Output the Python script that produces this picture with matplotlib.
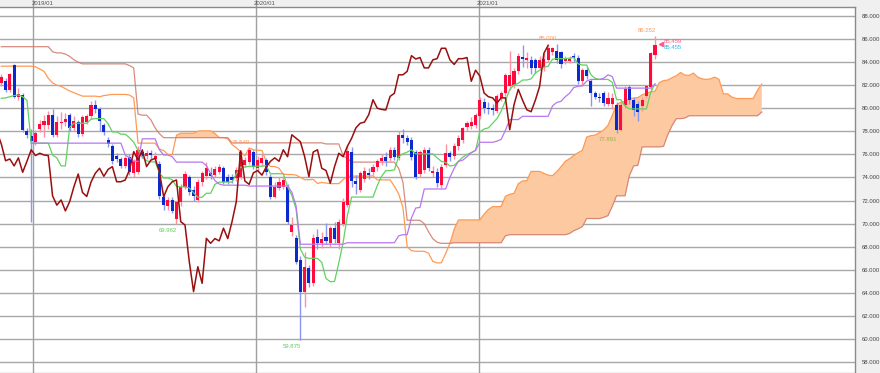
import numpy as np
import matplotlib
matplotlib.use("Agg")
import matplotlib.pyplot as plt
import matplotlib.transforms as mtransforms
from matplotlib import font_manager

# ---------------- data (weekly candles) ----------------
opens = [82.2, 82.4, 81.6, 83.75, 81.0, 81.15, 78.0, 77.6, 77.1, 78.2,
         78.55, 78.55, 79.4, 77.7, 78.7, 78.8, 79.4, 78.3, 78.85, 77.75,
         78.8, 79.3, 80.3, 79.9, 78.55, 77.25, 76.7, 75.9, 75.6, 75.0,
         75.8, 74.4, 74.45, 76.2, 75.9, 76.1, 75.6, 75.2, 72.3, 71.5,
         72.05, 70.4, 71.9, 73.2, 74.0, 72.9, 72.05, 73.6, 74.1, 74.4,
         74.2, 74.5, 74.8, 74.07, 74.07, 73.92, 74.07, 75.1, 75.37, 76.24,
         74.8, 75.23, 75.5, 74.07, 72.33, 73.06, 73.2, 73.2, 69.3, 68.72,
         66.84, 64.1, 66.12, 64.87, 68.86, 68.3, 68.8, 68.3, 69.6, 68.3,
         70.0, 71.6, 76.2, 73.7, 72.9, 73.9, 74.4, 74.5, 74.9, 75.4,
         75.8, 75.7, 76.4, 75.7, 77.7, 77.4, 77.25, 76.2, 74.3, 74.65,
         76.4, 74.4, 74.5, 73.35, 75.08, 76.1, 75.9, 76.7, 77.25, 78.4,
         78.5, 78.58, 79.3, 80.5, 80.0, 80.0, 79.79, 80.9, 81.32, 81.9,
         82.04, 83.2, 84.47, 84.2, 84.2, 84.2, 83.5, 83.6, 84.2, 84.9,
         85.0, 84.9, 84.1, 84.1, 84.5, 84.4, 82.4, 83.3, 82.34, 81.3,
         81.0, 81.3, 80.4, 80.4, 80.3, 78.14, 80.28, 81.84, 80.74, 80.4,
         80.2, 81.03, 81.82, 84.6]
highs = [83.0, 82.6, 83.1, 83.85, 81.8, 81.3, 78.3, 78.2, 78.1, 79.0,
         79.4, 79.8, 79.9, 79.3, 79.7, 79.6, 79.6, 79.3, 79.0, 79.4,
         79.5, 80.6, 80.7, 80.1, 78.7, 77.5, 76.9, 76.1, 75.8, 75.9,
         76.0, 75.6, 76.7, 76.5, 76.4, 76.4, 76.2, 75.4, 72.6, 72.3,
         72.3, 72.0, 73.4, 74.6, 74.2, 73.3, 73.9, 74.6, 75.3, 74.9,
         75.0, 75.2, 75.0, 74.3, 74.3, 74.9, 76.4, 75.8, 76.549, 76.4,
         75.9, 76.0, 75.7, 74.3, 73.6, 74.0, 74.1, 73.4, 70.6, 69.0,
         67.2, 67.5, 66.4, 69.1, 69.5, 69.3, 70.05, 69.8, 70.1, 70.4,
         72.2, 76.8, 76.6, 74.2, 74.6, 74.9, 74.8, 75.2, 75.6, 76.0,
         76.2, 76.6, 76.6, 78.0, 78.2, 77.7, 77.5, 76.4, 76.4, 76.6,
         76.6, 75.0, 74.8, 75.2, 76.9, 76.3, 77.0, 77.7, 78.4, 78.9,
         79.2, 79.6, 81.0, 80.9, 80.5, 80.4, 81.2, 81.5, 83.1, 84.94,
         83.5, 84.8, 85.5, 84.9, 84.5, 84.4, 84.5, 84.8, 85.4, 85.3,
         85.6, 85.0, 84.5, 84.5, 84.8, 84.6, 83.5, 83.6, 82.5, 81.5,
         81.3, 81.5, 81.4, 81.3, 80.5, 80.6, 81.9, 82.0, 81.0, 80.6,
         81.0, 82.0, 84.9, 86.252]
lows = [81.9, 81.4, 81.4, 80.9, 80.7, 77.9, 77.4, 70.1, 76.8, 77.9,
        77.5, 78.2, 77.5, 77.5, 78.2, 78.5, 78.0, 78.0, 77.5, 77.6,
        78.6, 79.1, 79.6, 78.0, 77.7, 76.6, 75.2, 75.3, 74.8, 74.8,
        74.2, 74.0, 74.3, 75.7, 75.6, 75.6, 75.4, 72.1, 71.2, 71.2,
        70.9, 69.962, 71.5, 73.0, 72.5, 72.0, 71.9, 73.3, 73.9, 73.9,
        74.0, 74.3, 73.4, 73.4, 73.5, 73.7, 73.9, 74.9, 75.2, 74.7,
        74.6, 75.0, 74.2, 72.1, 72.2, 72.9, 73.0, 70.0, 68.9, 66.5,
        59.875, 62.8, 64.5, 64.6, 67.8, 67.9, 68.2, 68.0, 68.3, 67.8,
        69.8, 71.4, 73.2, 72.6, 72.7, 73.6, 73.9, 74.2, 74.6, 75.1,
        75.0, 75.4, 75.5, 75.5, 77.0, 76.8, 75.5, 73.9, 74.0, 74.4,
        74.6, 74.0, 73.2, 73.1, 74.9, 75.4, 75.6, 76.4, 77.0, 78.0,
        78.2, 78.3, 79.1, 79.6, 79.5, 79.4, 79.6, 80.6, 81.1, 81.6,
        81.8, 83.0, 83.6, 83.5, 83.0, 83.1, 83.3, 83.2, 84.0, 84.6,
        83.9, 83.5, 83.8, 83.9, 84.0, 82.1, 81.9, 82.5, 80.2, 80.8,
        80.5, 80.2, 80.2, 79.9, 77.891, 78.0, 80.0, 80.4, 79.3, 78.9,
        79.8, 80.9, 81.6, 84.3]
closes = [82.74, 81.6, 83.0, 81.0, 81.2, 78.1, 77.7, 77.2, 77.85, 78.6,
          78.9, 79.4, 77.7, 78.8, 78.85, 79.05, 78.3, 78.9, 77.75, 79.2,
          79.3, 80.3, 79.9, 78.9, 77.95, 76.9, 75.45, 75.6, 75.0, 75.7,
          74.45, 75.4, 76.4, 75.9, 76.1, 75.95, 75.9, 72.4, 71.6, 72.05,
          71.1, 71.9, 73.2, 74.3, 72.7, 72.35, 73.6, 74.36, 74.8, 74.1,
          74.7, 74.94, 73.63, 73.63, 73.78, 74.65, 76.24, 75.5, 76.38, 74.94,
          75.5, 75.66, 74.5, 72.33, 73.2, 73.63, 73.78, 70.16, 69.88, 66.7,
          64.1, 66.26, 64.82, 68.72, 68.29, 68.7, 68.5, 69.6, 68.7, 70.16,
          71.9, 76.3, 73.7, 73.4, 74.4, 74.6, 74.2, 74.9, 75.4, 75.7,
          75.4, 76.4, 75.8, 77.7, 77.4, 77.1, 75.8, 74.07, 76.2, 76.4,
          74.8, 74.6, 73.5, 74.94, 76.1, 75.8, 76.7, 77.4, 78.3, 78.7,
          78.8, 79.44, 80.74, 80.0, 79.9, 79.85, 81.03, 81.3, 82.9, 82.9,
          83.2, 84.56, 84.27, 84.4, 83.5, 83.5, 84.2, 84.3, 85.2, 85.2,
          84.2, 83.8, 84.3, 84.3, 84.4, 82.34, 83.3, 82.8, 81.32, 81.0,
          80.9, 80.46, 80.9, 80.9, 78.14, 80.3, 81.64, 80.7, 79.87, 79.7,
          80.7, 81.9, 84.77, 85.459]

# indicator values before enough history is on screen
tenkan_head = [80.86, 80.9, 81.0, 81.1, 81.15, 81.0, 80.7]
spanA_head = [83.65, 83.65, 83.65, 83.65, 83.65, 83.65, 83.65, 83.65, 83.6, 83.4,
              83.2, 82.6, 82.2, 82.0, 81.9, 81.7, 81.5, 81.35, 81.2, 81.05,
              81.05, 81.05, 81.05, 81.0, 81.1, 81.15, 81.2, 81.2, 81.2, 81.2,
              81.15, 80.9]
spanB_head = [85.34] * 12 + [84.9, 84.8, 84.8, 84.7, 84.5, 84.2, 84.0] + [83.85] * 11 + \
             [83.7, 83.5, 79.5, 79.4, 79.4, 79.0, 78.3, 77.8] + [77.45] * 16 + [77.0] * 22

y_ticks = [58, 60, 62, 64, 66, 68, 70, 72, 74, 76, 78, 80, 82, 84, 86, 88]
date_labels = ["2019/01", "2020/01", "2021/01"]
date_pos = [7.49, 59.5, 111.7]

high_marks = [(58, "76.549"), (130, "85.000"), (153, "86.252")]
low_marks = [(41, "69.962"), (70, "59.875"), (144, "77.891")]
last_price = 85.459
last_price2 = 85.455

# ---------------- indicators ----------------
O = np.array(opens); H = np.array(highs); L = np.array(lows); C = np.array(closes)
n = len(C)
shift = 25

tenkan = np.full(n, np.nan)
kijun = np.full(n, np.nan)
for i in range(n):
    if i < len(tenkan_head):
        tenkan[i] = tenkan_head[i]
    else:
        lo = max(0, i - 8)
        tenkan[i] = (H[lo:i + 1].max() + L[lo:i + 1].min()) / 2
    if i >= 7:
        lo = max(0, i - 25)
        kijun[i] = (H[lo:i + 1].max() + L[lo:i + 1].min()) / 2

m = n + shift
spanA = np.full(m, np.nan)
spanB = np.full(m, np.nan)
for p in range(m):
    if p < len(spanA_head):
        spanA[p] = spanA_head[p]
    else:
        i = p - shift
        spanA[p] = (tenkan[i] + kijun[i]) / 2
    if p < len(spanB_head):
        spanB[p] = spanB_head[p]
    else:
        i = p - shift
        lo = max(0, i - 51)
        spanB[p] = (H[lo:i + 1].max() + L[lo:i + 1].min()) / 2

# ---------------- fonts ----------------
avail = {f.name for f in font_manager.fontManager.ttflist}
if "Liberation Sans Narrow" in avail:
    small_font, fs = ["Liberation Sans Narrow"], 5.0
else:
    small_font, fs = ["Liberation Sans"], 4.3

# ---------------- figure ----------------
W, Hpx = 880, 373
fig = plt.figure(figsize=(W / 100, Hpx / 100), dpi=100, facecolor="#f0f0f0")
ax_l, ax_r, ax_t, ax_b = 0, 855, 7, 372
ax = fig.add_axes([ax_l / W, 1 - ax_b / Hpx, (ax_r - ax_l) / W, (ax_b - ax_t) / Hpx])
ax.set_facecolor("white")

px_per_week = 4.2725
x0_px = 1.3
ax.set_xlim(-x0_px / px_per_week, (ax_r - x0_px) / px_per_week)
ax.set_ylim(57.132, 88.78)

# grid
for v in y_ticks:
    ax.axhline(v, color="#a8a8a8", lw=1.0, zorder=0)
trans = mtransforms.blended_transform_factory(ax.transData, ax.transAxes)
for xp in date_pos:
    ax.plot([xp, xp], [0, 1 + 7 / 365], transform=trans, color="#a0a0a0", lw=1.0,
            zorder=0, clip_on=False)

xs = np.arange(n)
ps = np.arange(m)

# cloud
ax.fill_between(ps, spanA, spanB, where=spanA >= spanB, interpolate=True,
                color="#fdc9a0", lw=0, zorder=1)
ax.plot(ps, spanA, color="#ff9a55", lw=0.9, zorder=2)
ax.plot(ps, spanB, color="#d07868", lw=0.9, zorder=2, alpha=0.85)

# candles
up = C >= O
wick_up, wick_dn = "#ff8fa3", "#8a96f0"
body_up, body_dn = "#ff0a3c", "#0a2ad0"
ax.vlines(xs[up], L[up], H[up], color=wick_up, lw=1.0, zorder=3)
ax.vlines(xs[~up], L[~up], H[~up], color=wick_dn, lw=1.0, zorder=3)
bh = np.maximum(np.abs(C - O), 0.08)
ax.bar(xs[up], bh[up], bottom=np.minimum(O, C)[up], width=0.72, color=body_up, lw=0, zorder=4)
ax.bar(xs[~up], bh[~up], bottom=np.minimum(O, C)[~up], width=0.72, color=body_dn, lw=0, zorder=4)

# lines
ax.plot(xs, tenkan, color="#5fd35f", lw=0.9, zorder=5)
ax.plot(xs, kijun, color="#b877f0", lw=0.9, zorder=5)
ax.plot(xs - shift, C, color="#9a0e0e", lw=1.1, zorder=6)

# high/low labels
for i, t in high_marks:
    ax.text(i + 0.2, H[i] + 0.25, t, fontsize=fs, family=small_font, color="#ff9a55",
            ha="right", va="bottom", zorder=7)
for i, t in low_marks:
    ax.text(i + 0.2, L[i] - 0.35, t, fontsize=fs, family=small_font,
            color="#5fcf5f" if i != 144 else "#99b050", ha="right", va="top", zorder=7)

# last price marker
ax.plot([n - 1 + 1.4], [last_price + 0.1], marker="<", ms=3, color="#ff5c8a", zorder=7, clip_on=False)
ax.text(n - 1 + 2.1, last_price + 0.3, f"{last_price:.3f}", fontsize=fs, family=small_font,
        color="#ff5c8a", ha="left", va="center", zorder=7)
ax.text(n - 1 + 2.1, last_price - 0.22, f"{last_price2:.3f}", fontsize=fs, family=small_font,
        color="#33b5f0", ha="left", va="center", zorder=7)

# axes styling
ax.set_xticks([])
ax.yaxis.tick_right()
ax.set_yticks(y_ticks)
ax.set_yticklabels([f"{v:.3f}" for v in y_ticks], family=small_font)
ax.tick_params(axis="y", labelsize=fs, length=0, pad=5, colors="#444444")
for s in ["left", "bottom"]:
    ax.spines[s].set_visible(False)
for s in ["top", "right"]:
    ax.spines[s].set_color("#8a8a8a")
    ax.spines[s].set_linewidth(1.0)

# date labels in the header band
for xp, t in zip(date_pos, date_labels):
    xd = ax.transData.transform((xp, 0))[0]
    fig.text(xd / W - 1.5 / W, 1 - 3.3 / Hpx, t, fontsize=fs, family=small_font,
             color="#555555", ha="left", va="center")

fig.savefig("out.png", dpi=100, facecolor=fig.get_facecolor())
